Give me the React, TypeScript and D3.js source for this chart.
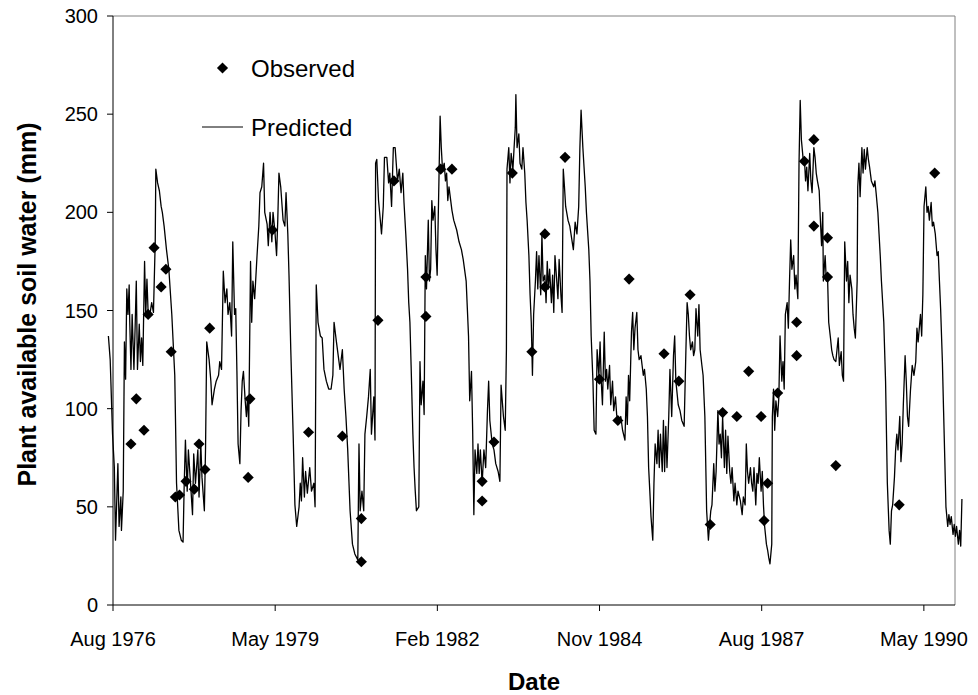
import React from "react";
import * as d3 from "d3";

// ---- Data ----
// Predicted plant available soil water (mm), time as decimal years
const predYear: number[] = [
  1976.57, 1976.60, 1976.64, 1976.67, 1976.69, 1976.73, 1976.75, 1976.78, 1976.79, 1976.82,
  1976.84, 1976.86, 1976.88, 1976.90, 1976.92, 1976.93, 1976.95, 1976.97, 1977.00, 1977.02,
  1977.04, 1977.06, 1977.09, 1977.11, 1977.13, 1977.15, 1977.18, 1977.20, 1977.22, 1977.24,
  1977.27, 1977.30, 1977.33, 1977.36, 1977.37, 1977.40, 1977.43, 1977.46, 1977.48, 1977.51,
  1977.55, 1977.59, 1977.64, 1977.69, 1977.72, 1977.76, 1977.80, 1977.83, 1977.85, 1977.87,
  1977.90, 1977.92, 1977.95, 1977.99, 1978.01, 1978.04, 1978.08, 1978.10, 1978.13, 1978.15,
  1978.19, 1978.21, 1978.23, 1978.27, 1978.30, 1978.32, 1978.36, 1978.39, 1978.43, 1978.45,
  1978.48, 1978.51, 1978.54, 1978.57, 1978.59, 1978.62, 1978.65, 1978.67, 1978.70, 1978.72,
  1978.74, 1978.76, 1978.79, 1978.81, 1978.83, 1978.85, 1978.88, 1978.90, 1978.92, 1978.94,
  1978.97, 1978.99, 1979.01, 1979.04, 1979.08, 1979.11, 1979.13, 1979.16, 1979.19, 1979.21,
  1979.25, 1979.27, 1979.30, 1979.33, 1979.35, 1979.38, 1979.41, 1979.43, 1979.45, 1979.48,
  1979.52, 1979.55, 1979.57, 1979.60, 1979.62, 1979.65, 1979.69, 1979.72, 1979.75, 1979.79,
  1979.81, 1979.83, 1979.85, 1979.88, 1979.90, 1979.93, 1979.97, 1980.00, 1980.04, 1980.06,
  1980.08, 1980.11, 1980.15, 1980.18, 1980.21, 1980.25, 1980.29, 1980.33, 1980.36, 1980.38,
  1980.42, 1980.45, 1980.48, 1980.52, 1980.55, 1980.58, 1980.61, 1980.65, 1980.69, 1980.73,
  1980.78, 1980.80, 1980.82, 1980.85, 1980.88, 1980.90, 1980.93, 1980.96, 1980.99, 1981.01,
  1981.05, 1981.07, 1981.08, 1981.10, 1981.13, 1981.16, 1981.18, 1981.21, 1981.23, 1981.27,
  1981.30, 1981.32, 1981.35, 1981.38, 1981.41, 1981.45, 1981.48, 1981.51, 1981.54, 1981.56,
  1981.59, 1981.62, 1981.64, 1981.66, 1981.68, 1981.71, 1981.73, 1981.75, 1981.77, 1981.81,
  1981.83, 1981.85, 1981.88, 1981.90, 1981.92, 1981.94, 1981.97, 1981.99, 1982.01, 1982.03,
  1982.05, 1982.08, 1982.10, 1982.12, 1982.15, 1982.17, 1982.19, 1982.21, 1982.24, 1982.26,
  1982.28, 1982.30, 1982.32, 1982.37, 1982.40, 1982.45, 1982.49, 1982.53, 1982.56, 1982.61,
  1982.63, 1982.65, 1982.67, 1982.70, 1982.72, 1982.74, 1982.76, 1982.79, 1982.81, 1982.83,
  1982.85, 1982.88, 1982.91, 1982.94, 1982.97, 1982.99, 1983.01, 1983.05, 1983.08, 1983.11,
  1983.15, 1983.18, 1983.20, 1983.24, 1983.27, 1983.29, 1983.30, 1983.33, 1983.35, 1983.37,
  1983.40, 1983.42, 1983.44, 1983.45, 1983.47, 1983.50, 1983.52, 1983.55, 1983.57, 1983.60,
  1983.62, 1983.64, 1983.67, 1983.69, 1983.71, 1983.73, 1983.75, 1983.78, 1983.80, 1983.82,
  1983.84, 1983.87, 1983.89, 1983.91, 1983.94, 1983.96, 1983.98, 1984.00, 1984.02, 1984.05,
  1984.07, 1984.09, 1984.11, 1984.14, 1984.16, 1984.18, 1984.21, 1984.23, 1984.25, 1984.27,
  1984.29, 1984.33, 1984.36, 1984.40, 1984.42, 1984.45, 1984.48, 1984.51, 1984.53, 1984.55,
  1984.58, 1984.60, 1984.62, 1984.64, 1984.68, 1984.70, 1984.72, 1984.75, 1984.77, 1984.80,
  1984.82, 1984.85, 1984.87, 1984.89, 1984.91, 1984.94, 1984.96, 1984.98, 1985.00, 1985.03,
  1985.05, 1985.08, 1985.10, 1985.13, 1985.15, 1985.18, 1985.22, 1985.25, 1985.29, 1985.31,
  1985.33, 1985.35, 1985.37, 1985.40, 1985.42, 1985.44, 1985.46, 1985.49, 1985.51, 1985.53,
  1985.56, 1985.58, 1985.60, 1985.62, 1985.65, 1985.67, 1985.69, 1985.71, 1985.73, 1985.76,
  1985.78, 1985.80, 1985.83, 1985.85, 1985.87, 1985.89, 1985.92, 1985.94, 1985.96, 1985.98,
  1986.00, 1986.03, 1986.05, 1986.08, 1986.11, 1986.13, 1986.15, 1986.19, 1986.22, 1986.25,
  1986.29, 1986.32, 1986.34, 1986.36, 1986.38, 1986.40, 1986.43, 1986.45, 1986.47, 1986.49,
  1986.52, 1986.54, 1986.56, 1986.59, 1986.61, 1986.64, 1986.67, 1986.70, 1986.72, 1986.74,
  1986.76, 1986.79, 1986.81, 1986.83, 1986.86, 1986.88, 1986.90, 1986.92, 1986.94, 1986.97,
  1986.99, 1987.01, 1987.03, 1987.06, 1987.08, 1987.10, 1987.13, 1987.15, 1987.18, 1987.20,
  1987.24, 1987.27, 1987.29, 1987.32, 1987.34, 1987.36, 1987.38, 1987.41, 1987.43, 1987.45,
  1987.47, 1987.50, 1987.52, 1987.54, 1987.56, 1987.59, 1987.61, 1987.63, 1987.65, 1987.68,
  1987.70, 1987.72, 1987.74, 1987.77, 1987.78, 1987.80, 1987.82, 1987.84, 1987.87, 1987.89,
  1987.91, 1987.94, 1987.96, 1987.98, 1988.00, 1988.03, 1988.05, 1988.07, 1988.09, 1988.11,
  1988.14, 1988.16, 1988.18, 1988.21, 1988.23, 1988.25, 1988.27, 1988.30, 1988.32, 1988.34,
  1988.36, 1988.38, 1988.41, 1988.43, 1988.45, 1988.48, 1988.50, 1988.52, 1988.54, 1988.57,
  1988.59, 1988.61, 1988.63, 1988.64, 1988.67, 1988.69, 1988.71, 1988.73, 1988.76, 1988.78,
  1988.80, 1988.82, 1988.85, 1988.87, 1988.89, 1988.91, 1988.94, 1988.96, 1988.98, 1989.00,
  1989.03, 1989.05, 1989.07, 1989.09, 1989.12, 1989.14, 1989.16, 1989.18, 1989.21, 1989.22,
  1989.24, 1989.26, 1989.29, 1989.31, 1989.33, 1989.35, 1989.38, 1989.40, 1989.42, 1989.45,
  1989.49, 1989.51, 1989.53, 1989.56, 1989.58, 1989.60, 1989.62, 1989.66, 1989.69, 1989.72,
  1989.75, 1989.77, 1989.79, 1989.81, 1989.84, 1989.86, 1989.88, 1989.90, 1989.93, 1989.95,
  1989.97, 1989.99, 1990.02, 1990.04, 1990.06, 1990.08, 1990.11, 1990.14, 1990.17, 1990.20,
  1990.22, 1990.24, 1990.28, 1990.30, 1990.32, 1990.34, 1990.37, 1990.39, 1990.41, 1990.43,
  1990.46, 1990.48, 1990.50, 1990.53, 1990.56, 1990.58, 1990.60, 1990.62, 1990.65, 1990.67,
  1990.69, 1990.71, 1990.74, 1990.76, 1990.78, 1990.80, 1990.83, 1990.85, 1990.87, 1990.89,
  1990.92, 1990.94, 1990.96, 1990.98,
];

const predValue: number[] = [
  137, 125, 87, 70, 33, 72, 40, 55, 38, 58,
  134, 115, 161, 148, 163, 144, 120, 148, 120, 141,
  165, 120, 143, 124, 136, 122, 175, 148, 166, 149,
  148, 154, 149, 185, 222, 215, 211, 203, 200, 193,
  181, 171, 148, 117, 62, 38, 33, 32, 62, 84,
  58, 79, 65, 46, 77, 62, 79, 55, 82, 65,
  48, 80, 134, 125, 114, 102, 110, 114, 117, 124,
  120, 170, 154, 161, 148, 154, 137, 185, 148, 151,
  119, 82, 72, 99, 114, 119, 104, 96, 106, 91,
  175, 144, 165, 156, 178, 193, 210, 213, 225, 200,
  194, 183, 200, 185, 200, 191, 178, 196, 220, 213,
  196, 193, 210, 189, 168, 130, 87, 51, 40, 50,
  62, 53, 75, 55, 68, 57, 70, 58, 62, 50,
  163, 144, 137, 136, 120, 114, 110, 110, 117, 144,
  134, 127, 120, 130, 110, 96, 79, 48, 31, 26,
  23, 82, 48, 58, 48, 87, 96, 106, 120, 87,
  106, 84, 225, 227, 206, 196, 189, 203, 228, 228,
  215, 220, 203, 233, 233, 216, 222, 210, 220, 205,
  189, 171, 154, 144, 122, 87, 70, 58, 48, 50,
  124, 102, 114, 97, 178, 161, 196, 165, 171, 206,
  196, 203, 181, 168, 216, 249, 233, 222, 225, 216,
  220, 206, 213, 201, 196, 191, 185, 181, 176, 165,
  151, 137, 104, 119, 89, 46, 79, 67, 82, 67,
  79, 62, 79, 70, 99, 114, 94, 82, 79, 72,
  68, 63, 112, 96, 89, 130, 222, 233, 215, 230,
  222, 233, 243, 260, 233, 240, 225, 222, 233, 220,
  205, 196, 178, 158, 144, 117, 148, 165, 180, 161,
  178, 158, 189, 165, 168, 154, 175, 161, 171, 154,
  168, 149, 178, 165, 156, 176, 158, 149, 222, 213,
  203, 196, 193, 185, 181, 195, 189, 203, 233, 252,
  233, 223, 213, 200, 181, 165, 137, 114, 89, 87,
  130, 117, 134, 114, 102, 139, 114, 120, 110, 122,
  102, 114, 99, 106, 97, 92, 96, 89, 84, 106,
  92, 117, 104, 139, 149, 130, 141, 149, 130, 125,
  127, 122, 117, 120, 110, 96, 70, 58, 45, 33,
  62, 82, 72, 89, 70, 87, 68, 94, 68, 91,
  70, 96, 120, 96, 127, 137, 114, 102, 99, 94,
  91, 130, 154, 148, 137, 130, 134, 127, 130, 151,
  137, 153, 130, 122, 117, 96, 48, 33, 41, 48,
  51, 72, 58, 68, 99, 82, 87, 75, 96, 70,
  89, 67, 86, 68, 62, 70, 53, 62, 51, 58,
  53, 46, 55, 51, 82, 68, 62, 70, 62, 58,
  70, 51, 67, 62, 75, 58, 68, 51, 40, 31,
  28, 24, 21, 31, 96, 110, 89, 104, 96, 106,
  137, 114, 124, 110, 148, 154, 141, 165, 186, 171,
  178, 161, 168, 156, 225, 257, 237, 227, 228, 216,
  223, 211, 230, 216, 210, 233, 228, 220, 216, 211,
  196, 183, 200, 165, 178, 165, 168, 144, 136, 130,
  127, 125, 124, 130, 136, 122, 129, 117, 114, 185,
  165, 175, 154, 168, 161, 148, 141, 136, 165, 213,
  225, 208, 233, 220, 232, 222, 233, 227, 223, 216,
  213, 216, 210, 200, 189, 178, 165, 144, 114, 62,
  38, 31, 48, 51, 65, 79, 87, 79, 96, 73,
  82, 102, 127, 114, 96, 91, 109, 122, 117, 124,
  141, 134, 148, 137, 158, 203, 213, 200, 203, 196,
  205, 193, 195, 189, 178, 180, 165, 151, 124, 99,
  75, 50, 40, 46, 41, 45, 36, 41, 35, 40,
  31, 38, 30, 54,
];

// Observed plant available soil water (mm)
const obsYear: number[] = [
  1976.95, 1977.04, 1977.17, 1977.24, 1977.34, 1977.46, 1977.54, 1977.63, 1977.70, 1977.77,
  1977.88, 1978.02, 1978.10, 1978.20, 1978.28, 1978.93, 1978.96, 1979.34, 1979.95, 1980.52,
  1980.84, 1980.84, 1981.12, 1981.39, 1981.93, 1981.93, 1982.18, 1982.37, 1982.88, 1982.88,
  1983.08, 1983.39, 1983.72, 1983.94, 1983.94, 1984.28, 1984.86, 1985.17, 1985.36, 1985.95,
  1986.20, 1986.39, 1986.73, 1986.94, 1987.18, 1987.38, 1987.59, 1987.64, 1987.70, 1987.87,
  1988.19, 1988.19, 1988.32, 1988.48, 1988.48, 1988.71, 1988.71, 1988.85, 1989.92, 1990.52,
];
const obsValue: number[] = [
  82, 105, 89, 148, 182, 162, 171, 129, 55, 56,
  63, 59, 82, 69, 141, 65, 105, 191, 88, 86,
  44, 22, 145, 216, 167, 147, 222, 222, 63, 53,
  83, 220, 129, 189, 162, 228, 115, 94, 166, 128,
  114, 158, 41, 98, 96, 119, 96, 43, 62, 108,
  127, 144, 226, 237, 193, 187, 167, 71, 51, 220,
];

// Axes
const yTicks: number[] = [0, 50, 100, 150, 200, 250, 300];
const xTickDates: string[] = ["1976-08-25", "1979-05-22", "1982-02-15", "1984-11-11", "1987-08-08", "1990-05-04"];
const xDomain: string[] = ["1976-08-25", "1990-11-12"];
const legendLabels: string[] = ["Observed", "Predicted"];
const xTitle = "Date";
const yTitle = "Plant available soil water (mm)";

// ---- helpers ----
function yearToDate(y: number): Date {
  const yr = Math.floor(y);
  const a = new Date(yr, 0, 1).getTime();
  const b = new Date(yr + 1, 0, 1).getTime();
  return new Date(a + (y - yr) * (b - a));
}
const parse = d3.timeParse("%Y-%m-%d");
const fmt = d3.timeFormat("%b %Y");

const W = 978;
const H = 695;
const left = 113;
const right = 955;
const top = 16;
const bottom = 605;
const FONT = "'Liberation Sans', Arial, sans-serif";

export default function App() {
  const x = d3
    .scaleTime()
    .domain([parse(xDomain[0]) as Date, parse(xDomain[1]) as Date])
    .range([left, right]);
  const y = d3.scaleLinear().domain([0, 300]).range([bottom, top]);

  const pred = predYear.map((t, i) => ({ t: yearToDate(t), v: predValue[i] }));
  const obs = obsYear.map((t, i) => ({ t: yearToDate(t), v: obsValue[i] }));

  const line = d3
    .line<{ t: Date; v: number }>()
    .x((d) => x(d.t))
    .y((d) => y(d.v));

  const diamond = d3.symbol().type(d3.symbolSquare).size(62)() as string;

  const legendY1 = 68;
  const legendY2 = 127;

  return (
    <svg
      width={W}
      height={H}
      style={{ position: "absolute", left: 0, top: 0, background: "#fff" }}
      fontFamily={FONT}
    >
      <rect x={0} y={0} width={W} height={H} fill="#fff" />
      {/* frame */}
      <line x1={left} x2={right} y1={top} y2={top} stroke="#808080" strokeWidth={1} />
      <line x1={right} x2={right} y1={top} y2={bottom} stroke="#808080" strokeWidth={1} />

      {/* predicted line */}
      <path d={line(pred) as string} fill="none" stroke="#000" strokeWidth={1.3} strokeLinejoin="round" />

      {/* observed */}
      {obs.map((d, i) => (
        <path
          key={i}
          d={diamond}
          transform={`translate(${x(d.t)},${y(d.v)}) rotate(45)`}
          fill="#000"
        />
      ))}

      {/* y axis */}
      <line x1={left} x2={left} y1={top} y2={bottom} stroke="#000" strokeWidth={1} />
      {yTicks.map((t) => (
        <g key={t}>
          <line x1={left - 6} x2={left} y1={y(t)} y2={y(t)} stroke="#000" strokeWidth={1} />
          <text x={left - 15} y={y(t)} textAnchor="end" dominantBaseline="central" fontSize={20} fill="#000">
            {t}
          </text>
        </g>
      ))}

      {/* x axis */}
      <line x1={left} x2={right} y1={bottom} y2={bottom} stroke="#000" strokeWidth={1} />
      {xTickDates.map((s) => {
        const dt = parse(s) as Date;
        const px = x(dt);
        return (
          <g key={s}>
            <line x1={px} x2={px} y1={bottom} y2={bottom + 6} stroke="#000" strokeWidth={1} />
            <text x={px} y={646} textAnchor="middle" fontSize={20} fill="#000">
              {fmt(dt)}
            </text>
          </g>
        );
      })}

      {/* axis titles */}
      <text x={(left + right) / 2} y={690} textAnchor="middle" fontSize={24} fontWeight="bold" fill="#000">
        {xTitle}
      </text>
      <text
        transform={`translate(27,${(top + bottom) / 2 - 6}) rotate(-90)`}
        textAnchor="middle"
        dominantBaseline="central"
        fontSize={25}
        fontWeight="bold"
        fill="#000"
      >
        {yTitle}
      </text>

      {/* legend */}
      <path d={diamond} transform={`translate(222.5,${legendY1}) rotate(45)`} fill="#000" />
      <text x={251} y={legendY1} dominantBaseline="central" fontSize={24} fill="#000">
        {legendLabels[0]}
      </text>
      <line x1={202} x2={243} y1={legendY2} y2={legendY2} stroke="#000" strokeWidth={1} />
      <text x={251} y={legendY2} dominantBaseline="central" fontSize={24} fill="#000">
        {legendLabels[1]}
      </text>
    </svg>
  );
}
